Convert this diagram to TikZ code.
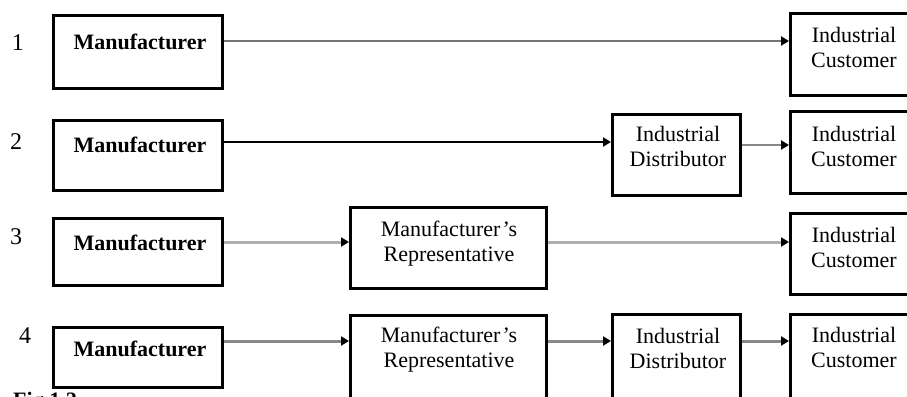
\documentclass[tikz,border=0pt]{standalone}
\usepackage{fontspec}
\setmainfont{Liberation Serif}
\usetikzlibrary{arrows.meta}
\definecolor{lnmid}{HTML}{747474}
\definecolor{lnsoft}{HTML}{888888}
\definecolor{lnpale}{HTML}{B0B0B0}
\begin{document}
\begin{tikzpicture}[x=1pt,y=-1pt,
  box/.style={draw=black, line width=3pt, anchor=north west, inner sep=0pt},
  mfr/.style={font=\fontsize{22}{25}\selectfont\bfseries, inner sep=0pt},
  txt/.style={font=\fontsize{22}{25}\selectfont, align=center, inner sep=0pt},
  num/.style={font=\fontsize{24}{26}\selectfont, inner sep=0pt},
  link/.style={line width=2.6pt, -{Triangle[length=8pt,width=9pt,color=black]}},
]
\useasboundingbox (0,0) rectangle (907,396);
\clip (0,0) rectangle (907,396);

% row numbers
\node[num] (n1) at (18,43) {1};
\node[num] (n2) at (16,142) {2};
\node[num] (n3) at (16,237) {3};
\node[num] (n4) at (25,336) {4};

% manufacturer boxes
\node[box, minimum width=169pt, minimum height=73pt] (m1) at (52,14) {};
\node[box, minimum width=169pt, minimum height=70pt] (m2) at (52,119) {};
\node[box, minimum width=169pt, minimum height=67pt] (m3) at (52,217) {};
\node[box, minimum width=169pt, minimum height=60pt] (m4) at (52,326) {};
\node[mfr] (m1t) at (140,42) {Manufacturer};
\node[mfr] (m2t) at (140,145) {Manufacturer};
\node[mfr] (m3t) at (140,243) {Manufacturer};
\node[mfr] (m4t) at (140,349) {Manufacturer};

% representatives
\node[box, minimum width=196pt, minimum height=81pt] (r3) at (349,206) {};
\node[box, minimum width=196pt, minimum height=100pt] (r4) at (349,314) {};
\node[txt] (r3t) at (449,244) {Manufacturer\kern2pt’s\\Representative};
\node[txt] (r4t) at (449,350) {Manufacturer\kern2pt’s\\Representative};

% distributors
\node[box, minimum width=128pt, minimum height=81pt] (d2) at (611,113) {};
\node[box, minimum width=128pt, minimum height=100pt] (d4) at (611,313) {};
\node[txt] (d2t) at (678,146.5) {Industrial\\Distributor};
\node[txt] (d4t) at (678,348.5) {Industrial\\Distributor};

% customers
\node[box, minimum width=128pt, minimum height=82pt] (c1) at (789,12) {};
\node[box, minimum width=128pt, minimum height=82pt] (c2) at (789,110) {};
\node[box, minimum width=128pt, minimum height=81pt] (c3) at (789,212) {};
\node[box, minimum width=128pt, minimum height=100pt] (c4) at (789,313) {};
\node[txt] (c1t) at (854,47) {Industrial\\Customer};
\node[txt] (c2t) at (854,146) {Industrial\\Customer};
\node[txt] (c3t) at (854,247) {Industrial\\Customer};
\node[txt] (c4t) at (854,347.5) {Industrial\\Customer};

% channel levels
\coordinate (y1) at (0,41);
\coordinate (y2a) at (0,142);
\coordinate (y2b) at (0,145);
\coordinate (y3) at (0,242);
\coordinate (y4) at (0,341);

\draw[link, draw=lnmid, line width=2.4pt] (m1.east |- y1) -- (c1.west |- y1);
\draw[link, draw=black, line width=2.2pt] (m2.east |- y2a) -- (d2.west |- y2a);
\draw[link, draw=lnsoft] (d2.east |- y2b) -- (c2.west |- y2b);
\draw[link, draw=lnpale, line width=3pt] (m3.east |- y3) -- (r3.west |- y3);
\draw[link, draw=lnpale, line width=3pt] (r3.east |- y3) -- (c3.west |- y3);
\draw[link, draw=lnsoft, line width=3pt] (m4.east |- y4) -- (r4.west |- y4);
\draw[link, draw=lnsoft, line width=3pt] (r4.east |- y4) -- (d4.west |- y4);
\draw[link, draw=lnsoft, line width=3pt] (d4.east |- y4) -- (c4.west |- y4);

% caption, cut by the lower edge
\node[font=\fontsize{22}{25}\selectfont\bfseries, inner sep=0pt, anchor=base west] (cap) at (13,407) {Fig 1.2};
\end{tikzpicture}
\end{document}
